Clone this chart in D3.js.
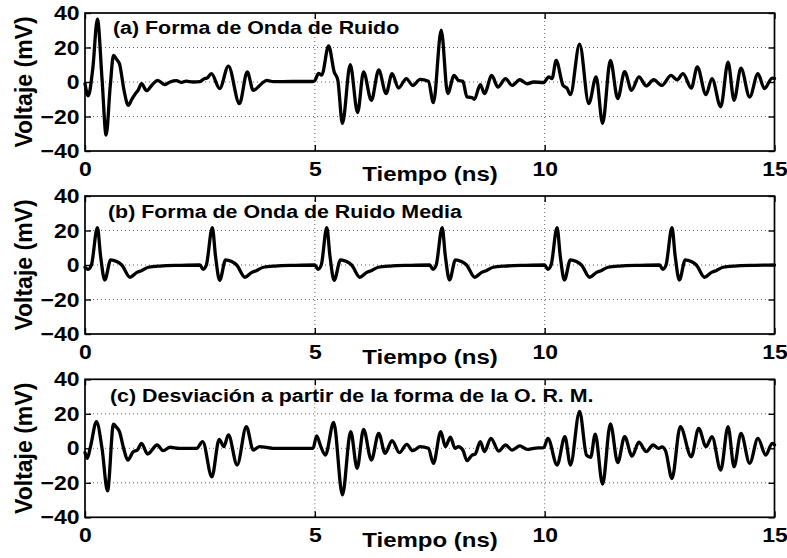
<!DOCTYPE html>
<html>
<head>
<meta charset="utf-8">
<script src="https://cdn.jsdelivr.net/npm/d3@7"></script>
<style>
  html, body { margin: 0; padding: 0; background: #fff; }
  svg { display: block; }
  text { font-family: "Liberation Sans", Arial, Helvetica, sans-serif; font-weight: bold; fill: #000; }
</style>
</head>
<body>
<svg id="fig" width="787" height="558"></svg>
<script>
// Time axis ticks (ns) and voltage ticks (mV)
const timeTicks = [0, 5, 10, 15];
const voltTicks = [-40, -20, 0, 20, 40];

// (a) Noise waveform: [time ns, voltage mV]
const noiseWave = [
  [0, -1], [0.07, -8], [0.17, 8], [0.27, 36.5], [0.37, 2], [0.46, -30.8], [0.55, -2],
  [0.62, 15.4], [0.69, 13], [0.75, 10.6], [0.85, -5], [0.94, -13.5], [1.02, -10],
  [1.09, -7], [1.16, -4.5], [1.23, -1], [1.34, -5], [1.45, -2], [1.58, 1], [1.74, -1.5],
  [1.85, 0], [1.99, 0.8], [2.1, -0.3], [2.2, 0.5], [2.35, 0], [2.5, 0.2], [2.6, 2],
  [2.65, 2.2], [2.75, 4.8], [2.93, -3.8], [3.12, 9.2], [3.36, -12.5], [3.53, 5.8],
  [3.66, -4.8], [3.84, -1], [3.95, 1], [4.1, 0.2], [4.5, 0.3], [4.96, 0.3],
  [5.0, 0.8], [5.08, 5], [5.15, 4], [5.3, 21], [5.42, 6], [5.5, 1], [5.6, -24],
  [5.77, 10], [5.93, -17.7], [6.06, 5.8], [6.23, -10.6], [6.39, 7], [6.55, -6.7],
  [6.68, 4.8], [6.82, -3.5], [6.99, 2], [7.13, -2], [7.29, 1.5], [7.47, 0.4],
  [7.58, -12], [7.75, 30], [7.89, -6.7], [8.03, 3.8], [8.12, 1], [8.22, 0.4],
  [8.31, -8.7], [8.42, -9], [8.47, -10], [8.6, -1.5], [8.69, -6.7], [8.85, 3.8],
  [8.98, -2.9], [9.15, 2], [9.29, -2], [9.46, 1.3], [9.62, -1], [9.76, 0], [9.98, -0.3],
  [10.09, 3], [10.16, 2], [10.25, 12.5], [10.4, -2], [10.49, -3.8], [10.56, -7.3],
  [10.76, 22], [10.96, -12.5], [11.12, 3], [11.26, -24], [11.43, 12.5], [11.59, -9.6],
  [11.74, 6], [11.89, -4.8], [12.05, 3], [12.21, -2.3], [12.37, 1.3], [12.55, -2],
  [12.75, 3.8], [12.88, 1.3], [13.01, 4.8], [13.19, -3.5], [13.32, 8.7], [13.51, -7.3],
  [13.64, 2], [13.83, -14.4], [13.99, 11.5], [14.12, -10.6], [14.27, 8], [14.46, -8.7],
  [14.64, 4.8], [14.78, -3.8], [14.95, 2.3], [15, 2]
];

// (b) Mean noise waveform: one pulse every 2.5 ns
const meanWave = [
  [0, -1.3], [0.07, -2.5], [0.14, 0], [0.27, 21.7], [0.34, 5], [0.43, -8.7], [0.56, 3],
  [0.69, 2], [0.8, 0], [0.98, -7.1], [1.12, -4.4], [1.23, -3.3], [1.38, -1.3], [1.63, -0.6],
  [2.07, -0.2], [2.5, 0],
  [2.57, -2.5], [2.64, 0], [2.77, 21.7], [2.84, 5], [2.93, -8.9], [3.06, 3], [3.19, 2],
  [3.3, 0], [3.48, -7.1], [3.62, -4.4], [3.73, -3.3], [3.88, -1.3], [4.13, -0.6],
  [4.57, -0.2], [5.0, 0],
  [5.07, -2.5], [5.14, 0], [5.26, 21.7], [5.33, 5], [5.42, -8.9], [5.56, 3], [5.69, 2],
  [5.8, 0], [5.98, -7.1], [6.12, -4.4], [6.23, -3.3], [6.38, -1.3], [6.63, -0.6],
  [7.07, -0.2], [7.5, 0],
  [7.57, -2.5], [7.64, 0], [7.77, 21.7], [7.84, 5], [7.93, -8.7], [8.06, 3], [8.19, 2],
  [8.3, 0], [8.48, -7.1], [8.62, -4.4], [8.73, -3.3], [8.88, -1.3], [9.13, -0.6],
  [9.57, -0.2], [10.0, 0],
  [10.07, -2.5], [10.14, 0], [10.27, 21.7], [10.34, 5], [10.43, -8.7], [10.56, 3],
  [10.69, 2], [10.8, 0], [10.98, -7.1], [11.12, -4.4], [11.23, -3.3], [11.38, -1.3],
  [11.63, -0.6], [12.07, -0.2], [12.5, 0],
  [12.57, -2.5], [12.64, 0], [12.77, 21.7], [12.84, 5], [12.93, -8.7], [13.06, 3],
  [13.19, 2], [13.3, 0], [13.48, -7.1], [13.62, -4.4], [13.73, -3.3], [13.88, -1.3],
  [14.13, -0.6], [14.57, -0.2], [15, 0]
];

// (c) Deviation from the mean waveform
const deviationWave = [
  [0, -2.5], [0.05, -5.8], [0.12, 1], [0.25, 15.5], [0.37, 0], [0.49, -24.7], [0.62, 14],
  [0.69, 12], [0.75, 9.7], [0.84, 0], [0.93, -6.8], [1.05, -2], [1.14, -1], [1.23, 2.9],
  [1.36, -3.3], [1.57, 1.9], [1.7, -1.4], [1.85, 0.6], [2.05, 0], [2.43, 0], [2.56, 3.9],
  [2.76, -16.5], [2.92, 5.2], [3.02, 1], [3.12, 7.8], [3.31, -9.7], [3.51, 12.6],
  [3.66, -1], [3.8, 1], [4.09, 0], [4.96, 0], [5.04, 7.2], [5.13, 1], [5.23, -3.9],
  [5.41, 15], [5.6, -27], [5.78, 9.7], [5.92, -11.6], [6.06, 11], [6.23, -6.8],
  [6.39, 8.7], [6.53, -2.9], [6.68, 4.5], [6.84, -2.5], [7.0, 2.3], [7.13, -1.4],
  [7.29, 1], [7.47, 0], [7.58, -8.7], [7.74, 9.7], [7.84, 1], [7.95, 6.4], [8.05, 0],
  [8.12, 1], [8.22, -1], [8.31, -7.2], [8.42, -3.9], [8.49, -3.3], [8.6, 3.9],
  [8.69, -1.9], [8.83, 5.8], [9.0, -1.6], [9.15, 1.9], [9.29, -1], [9.46, 1.4],
  [9.62, -0.6], [9.76, 0], [9.98, 0.4], [10.07, 5.8], [10.27, -9.7], [10.44, 6.8],
  [10.56, -9.7], [10.76, 21.4], [10.91, -3.9], [11.0, -5.2], [11.1, 8.2], [11.26, -20.8],
  [11.43, 14.2], [11.59, -8.3], [11.74, 6.8], [11.9, -4.5], [12.05, 3.5], [12.21, -1.9],
  [12.36, 1.9], [12.48, 0], [12.55, 0.8], [12.63, -1.5], [12.77, -17.5], [12.95, 12.6],
  [13.19, -4.9], [13.35, 11.6], [13.51, 1], [13.64, 6.8], [13.83, -12.6], [13.99, 12.6],
  [14.12, -10.7], [14.27, 8.7], [14.46, -8.7], [14.64, 5.8], [14.81, -3.9], [14.95, 2.9],
  [15, 2]
];

const panelTitles = [
  "(a) Forma de Onda de Ruido",
  "(b) Forma de Onda de Ruido Media",
  "(c) Desviación a partir de la forma de la O. R. M."
];
const xLabel = "Tiempo (ns)";
const yLabel = "Voltaje (mV)";

const svg = d3.select("#fig");
svg.append("rect").attr("width", 787).attr("height", 558).attr("fill", "#fff");

const plotLeft = 85, plotRight = 774.5, plotHeight = 138;
const panels = [
  { data: noiseWave, title: panelTitles[0], top: 13, titleX: 113, titleY: 34 },
  { data: meanWave, title: panelTitles[1], top: 196, titleX: 108, titleY: 218 },
  { data: deviationWave, title: panelTitles[2], top: 379.3, titleX: 110, titleY: 401.5 }
];

const x = d3.scaleLinear().domain([0, 15]).range([plotLeft, plotRight]);
const textStretch = 1.12;

panels.forEach(p => {
  const bottom = p.top + plotHeight;
  const y = d3.scaleLinear().domain([-40, 40]).range([bottom, p.top]);
  const g = svg.append("g");

  // dotted grid
  const grid = g.append("g").attr("stroke", "#666").attr("stroke-width", 1)
    .attr("stroke-dasharray", "1,3").attr("fill", "none");
  voltTicks.filter(v => v > -40 && v < 40).forEach(v => {
    grid.append("line").attr("x1", plotLeft).attr("x2", plotRight)
      .attr("y1", y(v)).attr("y2", y(v));
  });
  timeTicks.filter(t => t > 0 && t < 15).forEach(t => {
    grid.append("line").attr("x1", x(t)).attr("x2", x(t))
      .attr("y1", p.top).attr("y2", bottom);
  });

  // waveform trace
  const line = d3.line().x(d => x(d[0])).y(d => y(d[1])).curve(d3.curveMonotoneX);
  g.append("path").datum(p.data).attr("d", line)
    .attr("fill", "none").attr("stroke", "#000").attr("stroke-width", 3.3)
    .attr("stroke-linejoin", "round").attr("stroke-linecap", "round");

  // axes with inward ticks
  const axB = g.append("g").attr("transform", `translate(0,${bottom})`)
    .call(d3.axisBottom(x).tickValues(timeTicks).tickSizeInner(-6).tickSizeOuter(0).tickPadding(10));
  const axT = g.append("g").attr("transform", `translate(0,${p.top})`)
    .call(d3.axisTop(x).tickValues(timeTicks).tickSizeInner(-6).tickSizeOuter(0).tickFormat(""));
  const axL = g.append("g").attr("transform", `translate(${plotLeft},0)`)
    .call(d3.axisLeft(y).tickValues(voltTicks).tickSizeInner(-6).tickSizeOuter(0).tickPadding(5));
  const axR = g.append("g").attr("transform", `translate(${plotRight},0)`)
    .call(d3.axisRight(y).tickValues(voltTicks).tickSizeInner(-6).tickSizeOuter(0).tickFormat(""));

  [axB, axT, axL, axR].forEach(a => {
    a.select(".domain").remove();
    a.selectAll(".tick line").attr("stroke", "#000").attr("stroke-width", 1.4);
    a.selectAll("text").attr("font-size", 20.5).attr("font-family", null)
      .attr("font-weight", "bold").attr("fill", "#000")
      .attr("transform", `scale(${textStretch},1)`);
  });

  // box
  g.append("rect").attr("x", plotLeft).attr("y", p.top)
    .attr("width", plotRight - plotLeft).attr("height", plotHeight)
    .attr("fill", "none").attr("stroke", "#000").attr("stroke-width", 1.7);

  // panel title
  g.append("text").attr("font-size", 18.6)
    .attr("transform", `translate(${p.titleX},${p.titleY}) scale(1.15,1)`)
    .text(p.title);

  // axis labels
  g.append("text").attr("font-size", 20.5).attr("text-anchor", "middle")
    .attr("transform", `translate(430,${bottom + 30}) scale(1.17,1)`)
    .text(xLabel);
  g.append("text").attr("font-size", 23).attr("text-anchor", "middle")
    .attr("transform", `translate(32,${(p.top + bottom) / 2}) rotate(-90)`)
    .text(yLabel);
});
</script>
</body>
</html>
